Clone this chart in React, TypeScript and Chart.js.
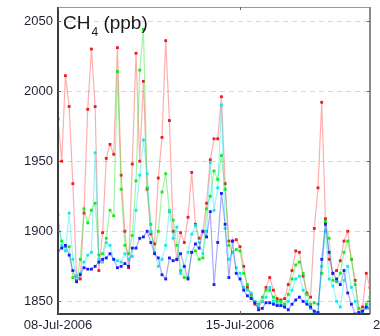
import React, { useEffect, useRef } from "react";
import { Chart, registerables } from "chart.js";

Chart.register(...registerables);

// sampling: 85 samples spanning 08-Jul-2006 00:00 to 20-Jul-2006 00:00
const STEP_HOURS = (24 * 12) / 84;
const X_MIN = 0;
const X_MAX = 12;
const X_TICKS = [0, 7];
const X_TICK_LABELS = ["08-Jul-2006", "15-Jul-2006"];
const X_NEXT_LABEL = "22-Jul-2006";
const Y_MIN = 1841;
const Y_MAX = 2060;
const Y_TICKS = [1850, 1900, 1950, 2000, 2050];
const TITLE_MAIN = "CH";
const TITLE_SUB = "4";
const TITLE_REST = " (ppb)";

const RED = [
  1980, 1950, 2011, 1989, 1934, 1868, 1866, 1913, 1987, 2030,
  1989, 1872, 1899, 1952, 1962, 1955, 2031, 1940, 1900, 1874,
  1948, 2027, 1950, 2007, 1930, 1898, 1891, 1938, 1967, 2036,
  1979, 1900, 1880, 1899, 1892, 1910, 1942, 1905, 1895, 1900,
  1920, 1951, 1966, 1966, 1996, 1934, 1893, 1893, 1894, 1889,
  1875, 1860, 1855, 1848, 1846, 1850, 1860, 1867, 1858, 1852,
  1851, 1852, 1862, 1872, 1886, 1885, 1868, 1856, 1853, 1902,
  1931, 1992, 1909, 1880, 1870, 1872, 1879, 1893, 1900, 1880,
  1865, 1842, 1846, 1870, 1860,
];

const GREEN = [
  1904, 1893, 1889, 1889, 1867, 1865, 1880, 1916, 1906, 1915,
  1920, 1883, 1884, 1895, 1915, 1911, 2014, 1930, 1890, 1884,
  1897, 1936, 2015, 2044, 1931, 1905, 1885, 1900, 1928, 1941,
  1914, 1908, 1890, 1872, 1867, 1867, 1885, 1886, 1880, 1881,
  1916, 1925, 1943, 1937, 1954, 1930, 1890, 1885, 1887, 1886,
  1870, 1862, 1853, 1850, 1848, 1853, 1858, 1858, 1853, 1850,
  1850, 1848, 1855, 1866, 1876, 1878, 1870, 1855, 1848, 1849,
  1848, 1870, 1907, 1895, 1865, 1864, 1870, 1885, 1893, 1880,
  1862, 1845, 1843, 1848, 1853,
];

const CYAN = [
  1912, 1890, 1886, 1913, 1880, 1868, 1870, 1878, 1883, 1885,
  1956, 1880, 1878, 1892, 1890, 1880, 1879, 1878, 1884, 1880,
  1882, 1915, 1940, 1965, 1941, 1900, 1885, 1875, 1880, 1890,
  1915, 1895, 1903, 1870, 1875, 1885, 1898, 1904, 1892, 1884,
  1900, 1949, 1915, 1931, 1990, 1902, 1880, 1885, 1874, 1870,
  1860, 1858, 1856, 1850, 1847, 1850, 1853, 1860, 1850, 1848,
  1848, 1846, 1850, 1858, 1866, 1868, 1858, 1850, 1845, 1842,
  1842, 1875, 1900, 1866, 1861, 1850, 1846, 1865, 1875, 1860,
  1850, 1842, 1842, 1845, 1848,
];

const BLUE = [
  1886, 1888, 1890, 1883, 1872, 1864, 1869, 1874, 1873, 1873,
  1875, 1878, 1880, 1881, 1884, 1880, 1874, 1875, 1877, 1875,
  1888, 1888, 1895, 1896, 1900, 1892, 1884, 1881, 1869, 1866,
  1881, 1879, 1880, 1884, 1875, 1866, 1885, 1891, 1888, 1900,
  1896, 1914, 1862, 1892, 1927, 1905, 1867, 1893, 1870, 1866,
  1858, 1854, 1852, 1849, 1844, 1845, 1849, 1849, 1848, 1847,
  1847, 1846, 1844, 1848, 1851, 1853, 1850, 1848, 1846, 1843,
  1842, 1880, 1905, 1885, 1870, 1866, 1862, 1872, 1856, 1848,
  1841, 1842, 1843, 1846, 1845,
];

const FONT = "'Liberation Sans', Arial, sans-serif";

export default function App() {
  const ref = useRef<HTMLCanvasElement>(null);

  useEffect(() => {
    if (!ref.current) return;
    const xs = RED.map((_, i) => (i * STEP_HOURS) / 24);
    const mk = (label: string, vals: number[], line: string, point: string) => ({
      label,
      data: vals.map((v, i) => ({ x: xs[i], y: v })),
      borderColor: line,
      backgroundColor: point,
      pointBackgroundColor: point,
      pointBorderColor: point,
      borderWidth: 1.2,
      pointStyle: "rect",
      pointRadius: 2,
      pointBorderWidth: 0,
      tension: 0,
    });

    const overlay = {
      id: "overlay",
      afterDraw(chart: any) {
        const { ctx, chartArea: a, scales } = chart;
        ctx.save();
        // frame
        ctx.lineWidth = 1;
        ctx.strokeStyle = "#9a9a9a";
        ctx.beginPath();
        ctx.moveTo(a.left, a.top + 0.5);
        ctx.lineTo(a.right, a.top + 0.5);
        ctx.stroke();
        ctx.lineWidth = 2;
        ctx.strokeStyle = "#8c8c8c";
        ctx.beginPath();
        ctx.moveTo(a.right, a.top);
        ctx.lineTo(a.right, a.bottom);
        ctx.stroke();
        ctx.strokeStyle = "#3c3c3c";
        ctx.beginPath();
        ctx.moveTo(a.left, a.top);
        ctx.lineTo(a.left, a.bottom);
        ctx.lineTo(a.right, a.bottom);
        ctx.stroke();
        // tick marks
        ctx.lineWidth = 1;
        ctx.strokeStyle = "#666";
        for (const v of Y_TICKS) {
          const y = Math.round(scales.y.getPixelForValue(v)) + 0.5;
          ctx.beginPath();
          ctx.moveTo(a.right - 3, y);
          ctx.lineTo(a.right, y);
          ctx.moveTo(a.left, y);
          ctx.lineTo(a.left + 3, y);
          ctx.stroke();
        }
        for (const v of X_TICKS) {
          const x = Math.round(scales.x.getPixelForValue(v)) + 0.5;
          ctx.beginPath();
          ctx.moveTo(x, a.top);
          ctx.lineTo(x, a.top + 3);
          ctx.moveTo(x, a.bottom);
          ctx.lineTo(x, a.bottom - 3);
          ctx.stroke();
        }
        // title
        ctx.fillStyle = "#1a1a1a";
        ctx.textBaseline = "alphabetic";
        ctx.textAlign = "left";
        ctx.font = `19px ${FONT}`;
        let tx = a.left + 5;
        const ty = a.top + 22;
        ctx.fillText(TITLE_MAIN, tx, ty);
        tx += ctx.measureText(TITLE_MAIN).width + 1;
        ctx.font = `12px ${FONT}`;
        ctx.fillText(TITLE_SUB, tx, ty + 7);
        tx += ctx.measureText(TITLE_SUB).width;
        ctx.font = `19px ${FONT}`;
        ctx.fillText(TITLE_REST, tx, ty);
        // next (cut-off) date label
        ctx.font = `13px ${FONT}`;
        ctx.fillStyle = "#1f2233";
        ctx.textBaseline = "middle";
        ctx.fillText(X_NEXT_LABEL, a.right + 3, a.bottom + 11);
        ctx.restore();
      },
    };

    const chart = new Chart(ref.current, {
      type: "line",
      data: {
        datasets: [
          mk("blue", BLUE, "rgba(40,40,255,0.4)", "#1a1aff"),
          mk("cyan", CYAN, "rgba(0,230,240,0.4)", "#10e8f0"),
          mk("green", GREEN, "rgba(20,230,20,0.4)", "#18e818"),
          mk("red", RED, "rgba(255,30,30,0.36)", "#ee1c1c"),
        ],
      },
      options: {
        animation: false,
        responsive: false,
        maintainAspectRatio: false,
        layout: { padding: { left: 0, right: 10, top: 7, bottom: 0 } },
        plugins: { legend: { display: false }, tooltip: { enabled: false } },
        scales: {
          x: {
            type: "linear",
            min: X_MIN,
            max: X_MAX,
            afterBuildTicks: (s: any) => {
              s.ticks = X_TICKS.map((v) => ({ value: v }));
            },
            afterFit: (s: any) => {
              s.height = 22;
              s.paddingLeft = 0;
              s.paddingRight = 0;
            },
            ticks: {
              autoSkip: false,
              maxRotation: 0,
              minRotation: 0,
              padding: 4,
              color: "#1f2233",
              font: { family: FONT, size: 13 },
              callback: (v: any) => {
                const idx = X_TICKS.indexOf(v);
                return idx >= 0 ? X_TICK_LABELS[idx] : "";
              },
            },
            grid: { display: false, drawTicks: false },
            border: { display: false },
          },
          y: {
            type: "linear",
            min: Y_MIN,
            max: Y_MAX,
            afterBuildTicks: (s: any) => {
              s.ticks = Y_TICKS.map((v) => ({ value: v }));
            },
            afterFit: (s: any) => {
              s.width = 58;
              s.paddingTop = 0;
              s.paddingBottom = 0;
            },
            ticks: {
              padding: 5,
              color: "#1f2233",
              font: { family: FONT, size: 13 },
              callback: (v: any) => String(v),
            },
            grid: { color: "#d8d8d8", lineWidth: 1, drawTicks: false },
            border: { display: false, dash: [5, 4] },
          },
        },
      },
      plugins: [overlay],
    });
    return () => chart.destroy();
  }, []);

  return (
    <div style={{ position: "fixed", left: 0, top: 0, width: 380, height: 336, background: "#fff" }}>
      <canvas ref={ref} width={380} height={336} style={{ width: 380, height: 336 }} />
    </div>
  );
}
